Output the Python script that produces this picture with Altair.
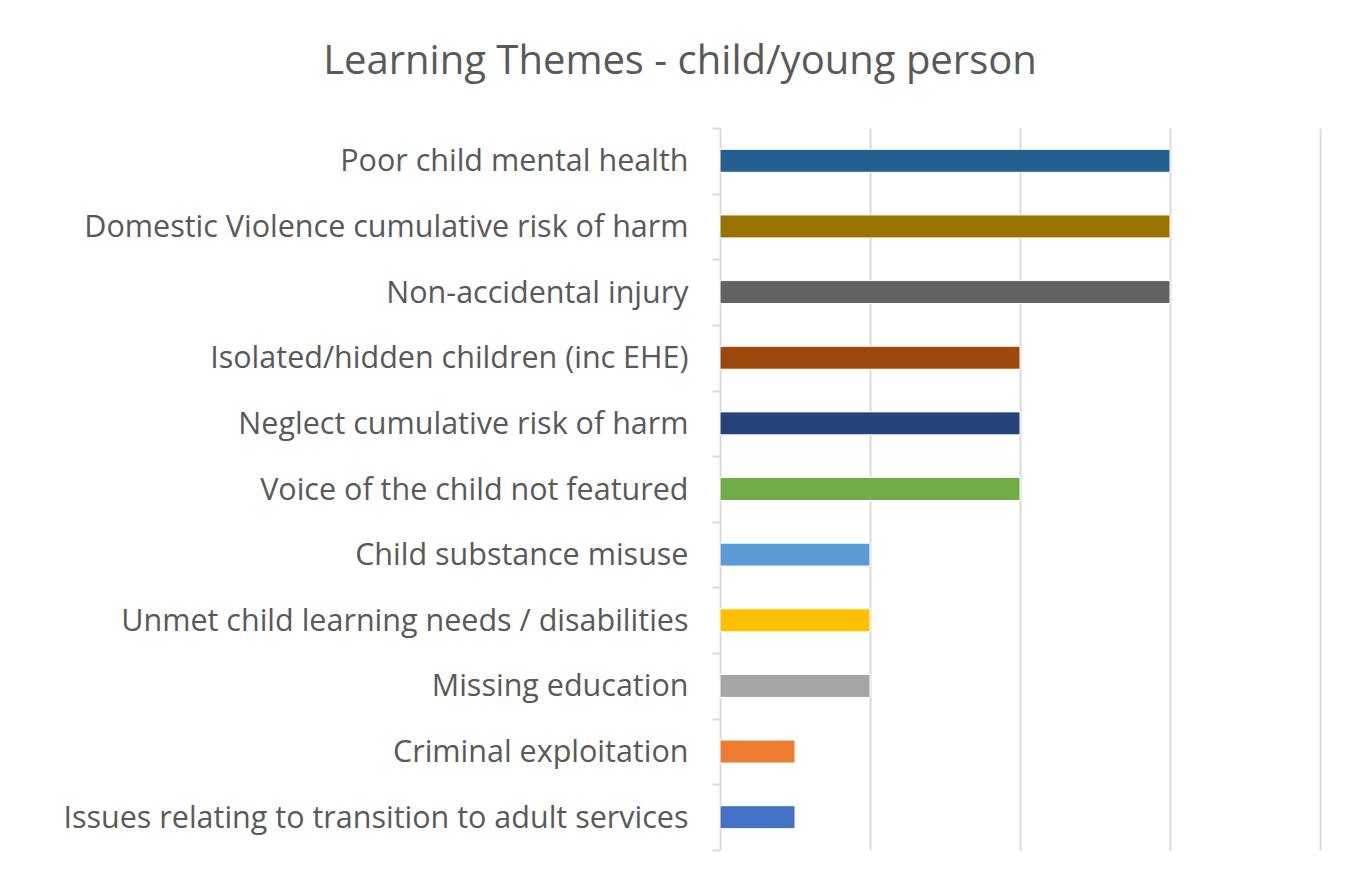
import altair as alt
import pandas as pd

categories = [
    "Poor child mental health",
    "Domestic Violence cumulative risk of harm",
    "Non-accidental injury",
    "Isolated/hidden children (inc EHE)",
    "Neglect cumulative risk of harm",
    "Voice of the child not featured",
    "Child substance misuse",
    "Unmet child learning needs / disabilities",
    "Missing education",
    "Criminal exploitation",
    "Issues relating to transition to adult services",
]
values = [6, 6, 6, 4, 4, 4, 2, 2, 2, 1, 1]
colors = ["#255E91", "#997300", "#636363", "#9E480E", "#264478", "#70AD47",
          "#5B9BD5", "#FFC000", "#A5A5A5", "#ED7D31", "#4472C4"]

df = pd.DataFrame({"theme": categories, "count": values, "color": colors})

W, H = 1342, 868
left, top, pw, ph = 712, 120, 600, 722

chart = alt.Chart(df).mark_bar(stroke="white", strokeWidth=1, height={"band": 0.35}).encode(
    y=alt.Y("theme:N", sort=categories, title=None,
            scale=alt.Scale(paddingInner=0, paddingOuter=0),
            axis=alt.Axis(labelFont="Open Sans", labelFontSize=30.5, labelColor="#595959",
                          labelPadding=24, tickSize=8, tickColor="#d9d9d9", tickWidth=2,
                          tickBand="extent", domainColor="#d9d9d9", domainWidth=2,
                          labelLimit=700, labelOffset=1)),
    x=alt.X("count:Q", title=None, scale=alt.Scale(domain=[0, 8]),
            axis=alt.Axis(values=[2, 4, 6, 8], labels=False, ticks=False, domain=False,
                          grid=True, gridColor="#d9d9d9", gridWidth=2)),
    color=alt.Color("color:N", scale=None, legend=None),
).properties(
    width=pw, height=ph,
    autosize=alt.AutoSizeParams(type="none"),
    padding={"left": left, "top": top, "right": W - left - pw, "bottom": H - top - ph},
    title=alt.TitleParams("Learning Themes - child/young person", font="Open Sans",
                          fontSize=40, fontWeight="normal", color="#595959",
                          anchor="middle", dx=-340, offset=31),
).configure_view(stroke=None)

chart.save("out.html", embed_options={"renderer": "svg", "actions": False})
